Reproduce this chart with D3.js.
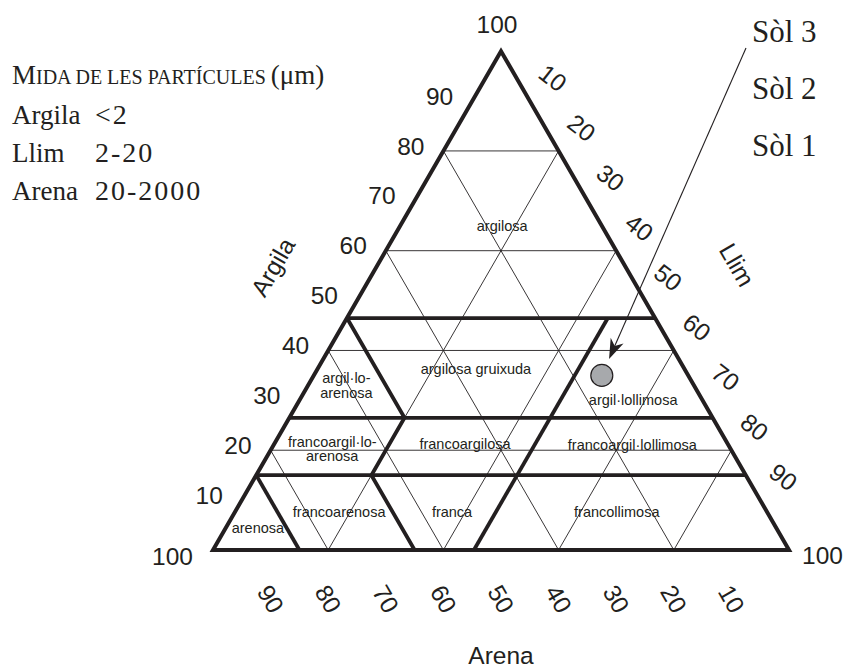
<!DOCTYPE html>
<html><head><meta charset="utf-8">
<script src="https://cdn.jsdelivr.net/npm/d3@7"></script>
<style>
body{margin:0;background:#fff;}
svg{display:block;}
</style></head>
<body>
<svg id="chart" width="847" height="669"></svg>
<script>
// ---------------- data ----------------
const clayTicks = [10,20,30,40,50,60,70,80,90];
const siltTicks = [10,20,30,40,50,60,70,80,90];
const sandTicks = [90,80,70,60,50,40,30,20,10];
const gridLevels = [20,40,60,80];
// class boundaries as polylines of [clay, silt]
const boundaryLines = [
  [[46.5,0],[46.5,53.5]],
  [[26.5,0],[26.5,73.5]],
  [[15,0],[15,85]],
  [[46.5,0],[26.5,20],[15,20],[0,35]],
  [[15,0],[0,15]],
  [[46.5,45.3],[0,45.3]]
];
const classNames = [["argilosa"],["argilosa gruixuda"],["argil·lo-","arenosa"],["francoargil·lo-","arenosa"],
  ["arenosa"],["francoarenosa"],["franca"],["francoargilosa"],["argil·lollimosa"],["francoargil·lollimosa"],["francollimosa"]];
const classClay = [65, 36.3, 32.9, 20.2, 4.4, 7.6, 7.6, 21.3, 30.1, 21.0, 7.6];
const classSilt = [17.7, 27.5, 6.7, 10.6, 5.6, 18.1, 37.7, 33.1, 57.9, 62.3, 66.3];
const sampleClay = [35];
const sampleSilt = [50];
const sampleNames = ["Sòl 3","Sòl 2","Sòl 1"];
const sizeHeader = ["Argila","Llim","Arena"];
const sizeRange = ["<2","2-20","20-2000"];
const axisTitles = ["Argila","Llim","Arena"];

// ---------------- layout ----------------
const ink = "#231f20";
const svg = d3.select("#chart");
const xL = 213, xR = 789, yB = 550;
const side = xR - xL, triH = side*Math.sqrt(3)/2;
const xs = d3.scaleLinear().domain([0,100]).range([xL,xR]);
const ys = d3.scaleLinear().domain([0,100]).range([yB, yB-triH]);
const P = (clay, silt) => [xs(silt + clay/2), ys(clay)];
const line = d3.line();

// thin grid
const grid = [];
gridLevels.forEach(k => {
  grid.push([[k,0],[k,100-k]]);          // clay = k
  grid.push([[0,k],[100-k,k]]);          // silt = k
  grid.push([[0,100-k],[100-k,0]]);      // sand = k
});
svg.append("g").selectAll("path").data(grid).join("path")
  .attr("d", d => line(d.map(p => P(p[0],p[1]))))
  .attr("fill","none").attr("stroke",ink).attr("stroke-width",0.9);

// class boundaries
svg.append("g").selectAll("path").data(boundaryLines).join("path")
  .attr("d", d => line(d.map(p => P(p[0],p[1]))))
  .attr("fill","none").attr("stroke",ink).attr("stroke-width",3.8)
  .attr("stroke-linejoin","miter");

// outline
svg.append("path")
  .attr("d", line([P(0,0),P(0,100),P(100,0)]) + "Z")
  .attr("fill","none").attr("stroke",ink).attr("stroke-width",4)
  .attr("stroke-linejoin","miter").attr("stroke-miterlimit",10);

// class labels
const cl = svg.append("g").attr("font-family","'Liberation Sans', Arial, sans-serif")
  .attr("font-size",14.5).attr("fill",ink).attr("text-anchor","middle");
classNames.forEach((lines,i) => {
  const [x,y] = P(classClay[i], classSilt[i]);
  const t = cl.append("text").attr("x",x).attr("y",y - (lines.length-1)*7.5);
  lines.forEach((s,j) => t.append("tspan").attr("x",x).attr("dy", j===0 ? "0.35em" : "1.0em").text(s));
});

// tick labels
const tk = svg.append("g").attr("font-family","'Liberation Sans', Arial, sans-serif")
  .attr("font-size",24.5).attr("fill",ink);
tk.selectAll("text.l").data(clayTicks).join("text").attr("class","l")
  .attr("x", c => P(c,0)[0] - 19).attr("y", c => ys(c) - 5).attr("dy","0.35em")
  .attr("text-anchor","end").text(c => c);
tk.selectAll("text.r").data(siltTicks).join("text").attr("class","r")
  .attr("text-anchor","middle").attr("dy","0.35em")
  .attr("transform", s => { const [x,y] = P(100-s, s); return `translate(${x+23},${y-23}) rotate(38)`; })
  .text(s => s);
tk.selectAll("text.b").data(sandTicks).join("text").attr("class","b")
  .attr("text-anchor","middle").attr("dy","0.35em")
  .attr("transform", a => `translate(${xs(100-a)},${yB+49}) rotate(60)`)
  .text(a => a);
// vertex labels (100)
const vTop = P(100,0), vBL = P(0,0), vBR = P(0,100);
tk.append("text").attr("x",vTop[0]-4).attr("y",vTop[1]-27).attr("dy","0.35em").attr("text-anchor","middle").text(100);
tk.append("text").attr("x",vBL[0]-20).attr("y",vBL[1]+6).attr("dy","0.35em").attr("text-anchor","end").text(100);
tk.append("text").attr("x",vBR[0]+13).attr("y",vBR[1]+5).attr("dy","0.35em").attr("text-anchor","start").text(100);

// axis titles
const at = svg.append("g").attr("font-family","'Liberation Sans', Arial, sans-serif")
  .attr("font-size",24.5).attr("fill",ink).attr("text-anchor","middle");
at.append("text").attr("transform",`translate(${xL+60},267) rotate(-60)`).attr("dy","0.35em").text(axisTitles[0]);
at.append("text").attr("transform",`translate(${xR-52},265) rotate(60)`).attr("dy","0.35em").text(axisTitles[1]);
at.append("text").attr("x",(xL+xR)/2).attr("y",yB+105).attr("dy","0.35em").text(axisTitles[2]);

// legend (particle sizes)
const lg = svg.append("g").attr("font-family","'Liberation Serif', 'Times New Roman', serif")
  .attr("font-size",27).attr("fill",ink);
const hd = lg.append("text").attr("x",12).attr("y",84);
hd.append("tspan").text("M");
hd.append("tspan").attr("font-size",20).text("IDA DE LES PARTÍCULES ");
hd.append("tspan").text("(μm)");
sizeHeader.forEach((s,i) => {
  lg.append("text").attr("x",12).attr("y",124 + i*38).text(s);
  lg.append("text").attr("x",95).attr("y",124 + i*38).attr("font-size",28)
    .attr("letter-spacing",2).text(sizeRange[i]);
});

// sample labels
const sl = svg.append("g").attr("font-family","'Liberation Serif', 'Times New Roman', serif")
  .attr("font-size",31).attr("fill",ink);
const solX = 752, solY0 = 42, solStep = 57;
sampleNames.forEach((s,i) => sl.append("text").attr("x",solX).attr("y",solY0 + i*solStep).text(s));

// sample point + arrow
const r = 11;
sampleClay.forEach((c,i) => {
  const [px,py] = P(c, sampleSilt[i]);
  const sx = solX - 6, sy = solY0 + 6;
  const dx = px - sx, dy = py - sy, len = Math.hypot(dx,dy);
  const ux = dx/len, uy = dy/len, nx = -uy, ny = ux;
  const tx = px - ux*(r+7), ty = py - uy*(r+7);
  svg.append("line").attr("x1",sx).attr("y1",sy).attr("x2",tx-ux*10).attr("y2",ty-uy*10)
    .attr("stroke",ink).attr("stroke-width",1.1);
  const L = 20, Wd = 7, notch = 14;
  svg.append("path").attr("d",
    `M${tx},${ty}L${tx-ux*L+nx*Wd},${ty-uy*L+ny*Wd}L${tx-ux*notch},${ty-uy*notch}L${tx-ux*L-nx*Wd},${ty-uy*L-ny*Wd}Z`)
    .attr("fill",ink);
  svg.append("circle").attr("cx",px).attr("cy",py).attr("r",r)
    .attr("fill","#a7a9ac").attr("stroke",ink).attr("stroke-width",1.2);
});
</script>
</body></html>
